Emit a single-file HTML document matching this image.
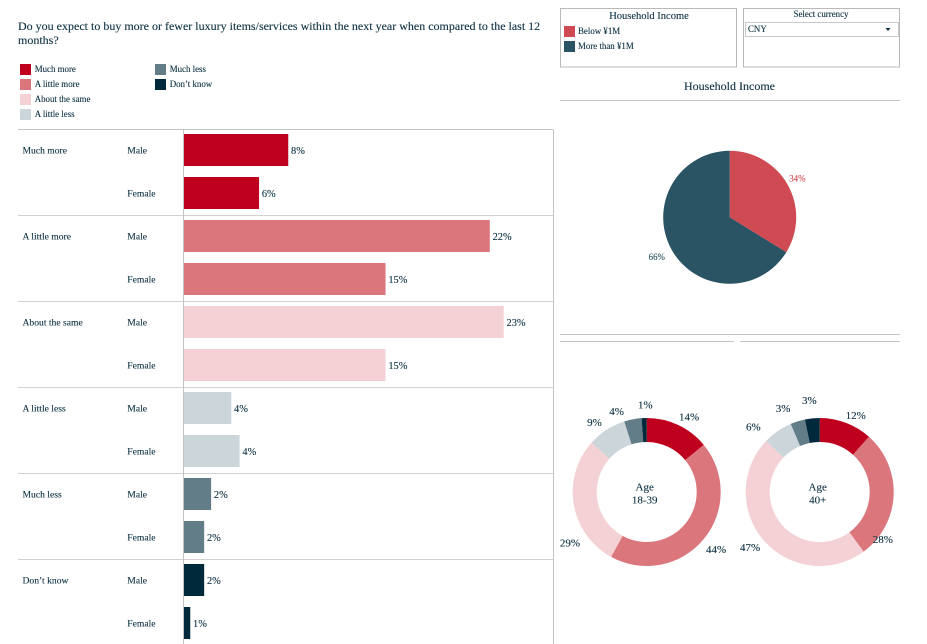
<!DOCTYPE html>
<html lang="en">
<head>
<meta charset="utf-8">
<title>Luxury purchase expectations</title>
<style>
  html, body { margin: 0; padding: 0; background: #fff; }
  #stage { display: block; width: 927px; height: 644px; }
  text { font-family: "Liberation Serif", "Noto Serif CJK SC", serif; fill: #0d3143; stroke: #0d3143; stroke-width: 0.12px; }
  .small { font-size: 8.9px; }
  .row { font-size: 9.6px; }
  .val { font-size: 10.4px; }
  .dval { font-size: 11px; }
  .line { stroke: #c4c4c4; stroke-width: 1; fill: none; shape-rendering: crispEdges; }
  .rowline { stroke: #d2d2d2; stroke-width: 1; fill: none; shape-rendering: crispEdges; }
  .box { stroke: #b9b9b9; stroke-width: 1; fill: #fff; shape-rendering: crispEdges; }
</style>
</head>
<body>
<svg id="stage" xmlns="http://www.w3.org/2000/svg" width="927" height="644" viewBox="0 0 927 644">
  <g>
    <text x="18" y="30" font-size="12">Do you expect to buy more or fewer luxury items/services within the next year when compared to the last 12</text>
    <text x="18" y="44" font-size="12">months?</text>
  </g>

  <g>
    <g><rect x="20" y="64" width="11" height="11" fill="#be001e"/><text class="small" x="34.7" y="72">Much more</text></g>
    <g><rect x="20" y="79" width="11" height="11" fill="#dc767d"/><text class="small" x="34.7" y="87">A little more</text></g>
    <g><rect x="20" y="94" width="11" height="11" fill="#f4d1d5"/><text class="small" x="34.7" y="102">About the same</text></g>
    <g><rect x="20" y="109" width="11" height="11" fill="#ccd5da"/><text class="small" x="34.7" y="117">A little less</text></g>
    <g><rect x="155" y="64" width="11" height="11" fill="#627c88"/><text class="small" x="169.7" y="72">Much less</text></g>
    <g><rect x="155" y="79" width="11" height="11" fill="#002a3c"/><text class="small" x="169.7" y="87">Don’t know</text></g>
  </g>

  <g>
    <rect class="box" x="560.5" y="8.5" width="176" height="58.5"/>
    <text x="649" y="19" font-size="10.5" text-anchor="middle">Household Income</text>
    <g><rect x="564" y="26" width="11" height="11" fill="#cf4a52"/><text class="small" x="578" y="34">Below ¥1M</text></g>
    <g><rect x="564" y="41" width="11" height="11" fill="#2a5364"/><text class="small" x="578" y="49">More than ¥1M</text></g>
  </g>

  <g>
    <rect class="box" x="743.5" y="8.5" width="156" height="58.5"/>
    <text class="small" x="821" y="17" text-anchor="middle">Select currency</text>
    <g>
      <rect x="745.5" y="22.5" width="153" height="14" fill="#fff" stroke="#c9c9c9" shape-rendering="crispEdges"/>
      <text class="small" x="748" y="32">CNY</text>
      <path d="M885.5 28 L890.5 28 L888 31 Z" fill="#0d3143"/>
    </g>
  </g>

  <text x="729.5" y="90" font-size="12" text-anchor="middle">Household Income</text>
  <line class="line" x1="560" y1="100.5" x2="900" y2="100.5"/>
  <line class="line" x1="560" y1="334.5" x2="900" y2="334.5"/>
  <line class="line" x1="560" y1="341.5" x2="734" y2="341.5"/>
  <line class="line" x1="740" y1="341.5" x2="900" y2="341.5"/>

  <g id="bar-chart"></g>
  <g id="income-pie"></g>
  <g id="donut-young"></g>
  <g id="donut-old"></g>
</svg>

<script>
/* ---------- data ---------- */
const responses = ["Much more", "A little more", "About the same", "A little less", "Much less", "Don’t know"];
const genders = ["Male", "Female"];
const maleValues = [7.5, 22, 23, 3.4, 1.95, 1.45];
const femaleValues = [5.4, 14.5, 14.5, 4, 1.45, 0.45];
const maleLabels = ["8%", "22%", "23%", "4%", "2%", "2%"];
const femaleLabels = ["6%", "15%", "15%", "4%", "2%", "1%"];

const incomeCategories = ["Below ¥1M", "More than ¥1M"];
const incomeValues = [33.8, 66.2];
const incomeLabels = ["34%", "66%"];

const youngValues = [14, 44, 28.6, 8.5, 3.8, 1.1];
const youngLabels = ["14%", "44%", "29%", "9%", "4%", "1%"];
const oldValues = [11.6, 28.3, 47.2, 6.5, 3.2, 3.2];
const oldLabels = ["12%", "28%", "47%", "6%", "3%", "3%"];

/* ---------- style and layout ---------- */
const responseColors = ["#be001e", "#dc767d", "#f4d1d5", "#ccd5da", "#627c88", "#002a3c"];
const incomeColors = ["#cf4a52", "#2a5364"];
const incomeTextColors = ["#cf4a52", "#2a5364"];
const NS = "http://www.w3.org/2000/svg";
const slug = s => s.toLowerCase().replace(/[^a-z0-9]+/g, "-").replace(/^-|-$/g, "");

function make(parent, tag, attrs, content) {
  const el = document.createElementNS(NS, tag);
  for (const k in attrs) el.setAttribute(k, attrs[k]);
  if (content !== undefined) el.textContent = content;
  parent.appendChild(el);
  return el;
}

/* ---------- bar chart axes ---------- */
const barZero = 184;
const pxPerPercent = 13.9;
const rowTop = 129.5;
const rowStep = 86;
const xScale = v => barZero + v * pxPerPercent;
const rowY = i => rowTop + i * rowStep;
const barY = (i, g) => rowY(i) + 4.5 + g * 43;
const barHeight = 32;

const barRoot = document.getElementById("bar-chart");

responses.forEach((name, i) => {
  const rule = make(barRoot, "line", { class: i === 0 ? "line" : "rowline", x1: 18, x2: 553, y1: rowY(i), y2: rowY(i) });
  
  

  const rowLabel = make(barRoot, "text", { class: "row", x: 22.5, y: barY(i, 0) + 19.5 }, name);
  
  

  [maleValues, femaleValues].forEach((series, g) => {
    const key = slug(name) + "-" + slug(genders[g]);

    const genderLabel = make(barRoot, "text", { class: "row", x: 127.3, y: barY(i, g) + 19.5 }, genders[g]);
    
    

    const bar = make(barRoot, "rect", {
      x: xScale(0),
      y: barY(i, g),
      width: xScale(series[i]) - xScale(0),
      height: barHeight,
      fill: responseColors[i]
    });
    
    

    const printed = (g === 0 ? maleLabels : femaleLabels)[i];
    const valueLabel = make(barRoot, "text", { class: "val", x: xScale(series[i]) + 2.8, y: barY(i, g) + 20.2 }, printed);
    
    
  });
});

const axisLine = make(barRoot, "line", { class: "line", x1: 183.5, x2: 183.5, y1: rowTop, y2: 644 });



const frameLine = make(barRoot, "line", { class: "line", x1: 553.5, x2: 553.5, y1: rowTop, y2: 644 });



/* ---------- pie / donut geometry ---------- */
const polar = (cx, cy, r, frac) => {
  const a = frac * 2 * Math.PI;
  return [cx + r * Math.sin(a), cy - r * Math.cos(a)];
};

function wedgePath(cx, cy, outer, inner, f0, f1) {
  const large = f1 - f0 > 0.5 ? 1 : 0;
  const [x0, y0] = polar(cx, cy, outer, f0);
  const [x1, y1] = polar(cx, cy, outer, f1);
  if (inner === 0) {
    return `M${cx} ${cy} L${x0} ${y0} A${outer} ${outer} 0 ${large} 1 ${x1} ${y1} Z`;
  }
  const [x2, y2] = polar(cx, cy, inner, f1);
  const [x3, y3] = polar(cx, cy, inner, f0);
  return `M${x0} ${y0} A${outer} ${outer} 0 ${large} 1 ${x1} ${y1} L${x2} ${y2} A${inner} ${inner} 0 ${large} 0 ${x3} ${y3} Z`;
}

function fractions(values) {
  const total = values.reduce((a, b) => a + b, 0);
  let run = 0;
  return values.map(v => {
    const start = run / total;
    run += v;
    return [start, run / total];
  });
}

/* ---------- income pie ---------- */
const pieRoot = document.getElementById("income-pie");
const pieCx = 729.7, pieCy = 217.3, pieR = 66.5;
const pieLabelGap = [11, 17];

fractions(incomeValues).forEach(([f0, f1], i) => {
  const key = slug(incomeCategories[i]);

  const slice = make(pieRoot, "path", { d: wedgePath(pieCx, pieCy, pieR, 0, f0, f1), fill: incomeColors[i] });
  
  

  const [lx, ly] = polar(pieCx, pieCy, pieR + pieLabelGap[i], (f0 + f1) / 2);
  const label = make(pieRoot, "text", {
    class: "small", x: lx, y: ly + 2, "text-anchor": "middle",
    style: "fill:" + incomeTextColors[i] + ";stroke:" + incomeTextColors[i]
  }, incomeLabels[i]);
  
  
});

/* ---------- age donuts ---------- */
const donutCy = 492, donutOuter = 74, donutInner = 50;

/* label placement tweaks relative to each slice: [turn fraction, radial gap] */
const youngLabelTweak = [[0.012, 12], [0, 16], [-0.066, 18], [-0.011, 13], [-0.027, 12], [0.003, 13]];
const oldLabelTweak = [[0.012, 10.5], [0.095, 5], [0.008, 15], [-0.03, 19], [-0.018, 17], [-0.002, 18]];

function drawDonut(rootId, prefix, cx, values, labels, tweak, centerLines) {
  const root = document.getElementById(rootId);

  fractions(values).forEach(([f0, f1], i) => {
    const key = prefix + "-" + slug(responses[i]);

    const seg = make(root, "path", { d: wedgePath(cx, donutCy, donutOuter, donutInner, f0, f1), fill: responseColors[i] });
    
    

    const mid = (f0 + f1) / 2 + tweak[i][0];
    const [lx, ly] = polar(cx, donutCy, donutOuter + tweak[i][1], mid);
    const label = make(root, "text", { class: "dval", x: lx, y: ly + 3.5, "text-anchor": "middle" }, labels[i]);
    
    
  });

  centerLines.forEach((line, i) => {
    const center = make(root, "text", { class: "dval", x: cx - 2, y: donutCy - 1.5 + i * 13, "text-anchor": "middle" }, line);
    
    
  });
}

drawDonut("donut-young", "age-18-39", 646.7, youngValues, youngLabels, youngLabelTweak, ["Age", "18-39"]);
drawDonut("donut-old", "age-40-plus", 819.7, oldValues, oldLabels, oldLabelTweak, ["Age", "40+"]);
</script>
</body>
</html>
